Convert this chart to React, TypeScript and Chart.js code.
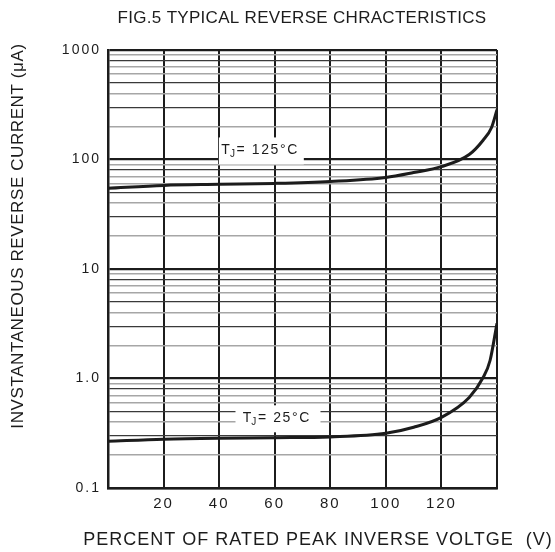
import React, { useEffect, useRef } from 'react';
import { Chart, registerables } from 'chart.js';

Chart.register(...registerables);

// ---- data ----
const voltage125 = [0, 20, 40, 60, 80, 100, 110, 120, 130, 135, 138, 140];
const current125 = [54.5, 58, 59.3, 60.5, 63, 68.5, 76, 86, 111, 150, 195, 285];
const voltage25 = [0, 20, 40, 60, 80, 100, 110, 120, 130, 135, 137.5, 140];
const current25 = [0.267, 0.279, 0.285, 0.288, 0.293, 0.316, 0.359, 0.442, 0.672, 1.02, 1.46, 3.2];

const xTickValues = [20, 40, 60, 80, 100, 120];
const yDecadeValues = [0.1, 1, 10, 100, 1000];
const yDecadeLabels = ['0.1', '1.0', '10', '100', '1000'];

const curveNames = ['= 125°C', '= 25°C'];
const curveLabelX = [55, 61];
const curveLabelY = [121, 0.433];

const chartTitle = 'FIG.5 TYPICAL REVERSE CHRACTERISTICS';
const xTitle = 'PERCENT OF RATED PEAK INVERSE VOLTGE  (V)';
const yTitle = 'INVSTANTANEOUS REVERSE CURRENT (μA)';

const FONT = "'Liberation Sans', Arial, sans-serif";
const INK = '#1c1c1c';

function mantissa(v: number) {
  const e = Math.floor(Math.log10(v) + 1e-9);
  return Math.round(v / Math.pow(10, e));
}

export default function App() {
  const ref = useRef<HTMLCanvasElement>(null);

  useEffect(() => {
    document.body.style.margin = '0';
    const canvas = ref.current!;

    const gridValues: number[] = [];
    for (let d = 0; d < yDecadeValues.length - 1; d++) {
      for (let m = 1; m <= 9; m++) gridValues.push(+(m * yDecadeValues[d]).toPrecision(6));
    }
    gridValues.push(yDecadeValues[yDecadeValues.length - 1]);

    const textPlugin = {
      id: 'texts',
      beforeDraw(chart: any) {
        chart.ctx.letterSpacing = '2px';
      },
      beforeDatasetsDraw(chart: any) {
        const ctx = chart.ctx as CanvasRenderingContext2D;
        const xs = chart.scales.x;
        const ys = chart.scales.y;
        ctx.save();
        for (let i = 0; i < curveNames.length; i++) {
          const cx = xs.getPixelForValue(curveLabelX[i]);
          const cy = ys.getPixelForValue(curveLabelY[i]);
          ctx.fillStyle = '#ffffff';
          ctx.fillRect(cx - 42, cy - 13, 85, 27);
          (ctx as any).letterSpacing = '1.6px';
          ctx.fillStyle = INK;
          ctx.textBaseline = 'middle';
          ctx.textAlign = 'left';
          ctx.font = `14px ${FONT}`;
          const wT = ctx.measureText('T').width;
          const wS = ctx.measureText(curveNames[i]).width;
          ctx.font = `10px ${FONT}`;
          const wJ = ctx.measureText('J').width;
          const start = cx - (wT + wJ + wS) / 2;
          ctx.font = `14px ${FONT}`;
          ctx.fillText('T', start, cy);
          ctx.font = `10px ${FONT}`;
          ctx.fillText('J', start + wT - 1.5, cy + 4);
          ctx.font = `14px ${FONT}`;
          ctx.fillText(curveNames[i], start + wT + wJ - 1.5, cy);
        }
        ctx.restore();
      },
      afterDraw(chart: any) {
        const ctx = chart.ctx as CanvasRenderingContext2D;
        ctx.save();
        ctx.fillStyle = INK;
        ctx.textAlign = 'center';
        ctx.textBaseline = 'middle';
        (ctx as any).letterSpacing = '0.3px';
        ctx.font = `17px ${FONT}`;
        ctx.fillText(chartTitle, 302, 18);
        (ctx as any).letterSpacing = '1px';
        ctx.font = `18px ${FONT}`;
        ctx.fillText(xTitle, 318, 540);
        (ctx as any).letterSpacing = '0.6px';
        ctx.font = `17px ${FONT}`;
        ctx.translate(18, 236);
        ctx.rotate(-Math.PI / 2);
        ctx.fillText(yTitle, 0, 0);
        ctx.restore();
        (ctx as any).letterSpacing = '0px';
      },
    };

    const chart = new Chart(canvas, {
      type: 'line',
      data: {
        datasets: [
          {
            data: voltage125.map((x, i) => ({ x, y: current125[i] })),
            borderColor: INK,
            borderWidth: 3,
            pointRadius: 0,
            cubicInterpolationMode: 'monotone',
            fill: false,
          },
          {
            data: voltage25.map((x, i) => ({ x, y: current25[i] })),
            borderColor: INK,
            borderWidth: 3,
            pointRadius: 0,
            cubicInterpolationMode: 'monotone',
            fill: false,
          },
        ],
      },
      options: {
        animation: false,
        responsive: false,
        devicePixelRatio: 1,
        layout: { padding: { top: 50, right: 58, bottom: 0, left: 0 } },
        plugins: { legend: { display: false }, tooltip: { enabled: false }, title: { display: false } },
        scales: {
          x: {
            type: 'linear',
            min: 0,
            max: 140,
            afterBuildTicks: (s: any) => {
              s.ticks = [0, ...xTickValues, 140].map((v) => ({ value: v }));
            },
            afterFit: (s: any) => {
              s.height = 64;
            },
            ticks: {
              autoSkip: false,
              maxRotation: 0,
              padding: 7,
              color: INK,
              font: { family: FONT, size: 15 },
              callback: (v: any) => (xTickValues.includes(Number(v)) ? String(v) : ''),
            },
            grid: { color: INK, lineWidth: 2, drawTicks: false },
            border: { color: INK, width: 2.5 },
          },
          y: {
            type: 'logarithmic',
            min: 0.1,
            max: 1000,
            afterBuildTicks: (s: any) => {
              s.ticks = gridValues.map((v) => ({ value: v }));
            },
            afterFit: (s: any) => {
              s.width = 108;
            },
            ticks: {
              autoSkip: false,
              padding: 7,
              color: INK,
              font: { family: FONT, size: 14 },
              callback: (v: any) => {
                const i = yDecadeValues.findIndex((d) => Math.abs(d - Number(v)) / d < 1e-6);
                return i >= 0 ? yDecadeLabels[i] : '';
              },
            },
            grid: {
              drawTicks: false,
              color: (c: any) => {
                const m = mantissa(c.tick.value);
                if (m === 1) return INK;
                if (m === 3 || m === 5 || m === 8) return '#3a3a3a';
                return '#a6a6a6';
              },
              lineWidth: (c: any) => {
                const m = mantissa(c.tick.value);
                if (m === 1) return 2.2;
                if (m === 3 || m === 5 || m === 8) return 1.3;
                return 1.6;
              },
            },
            border: { color: INK, width: 2.5 },
          },
        },
      } as any,
      plugins: [textPlugin],
    });

    return () => chart.destroy();
  }, []);

  return (
    <canvas
      ref={ref}
      width={555}
      height={552}
      style={{ display: 'block', width: 555, height: 552 }}
    />
  );
}
